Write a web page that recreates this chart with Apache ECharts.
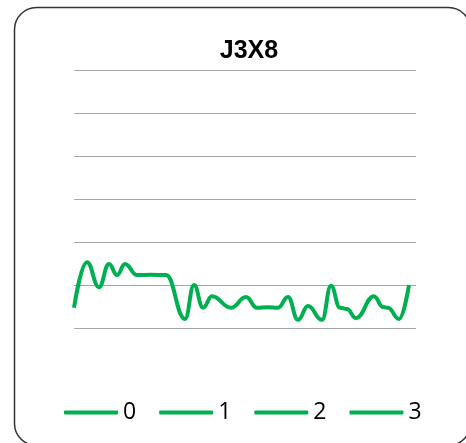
<!DOCTYPE html>
<html>
<head>
<meta charset="utf-8">
<script src="https://cdn.jsdelivr.net/npm/echarts@6/dist/echarts.min.js"></script>
<style>
html,body{margin:0;padding:0;background:#fff;}
#chart{width:466px;height:443px;}
</style>
</head>
<body>
<div id="chart"></div>
<script>
var titleText = 'J3X8';
var seriesNames = ['0', '1', '2', '3'];
// series "0": positions along the x axis (sample index) and values
var series0X = [0, 2.87, 5.52, 7.73, 9.50, 11.27, 13.92, 17.0, 20.32, 24.52,
  26.51, 28.50, 30.48, 34.68, 38.0, 40.42, 42.8, 45.06, 47.27, 49.48,
  51.69, 54.78, 56.77, 58.76, 60.30, 62.29, 66.27, 68.26, 69.36, 71.79, 74.0];
var series0Y = [0.47, 1.53, 0.95, 1.49, 1.23, 1.49, 1.23, 1.24, 1.23, 0.21,
  1.00, 0.47, 0.74, 0.47, 0.72, 0.47, 0.48, 0.47, 0.72, 0.19,
  0.51, 0.19, 0.98, 0.47, 0.44, 0.23, 0.74, 0.49, 0.47, 0.21, 1.00];
var series1 = [];
var series2 = [];
var series3 = [];
var series0 = series0X.map(function (x, i) { return [x, series0Y[i]]; });
var allSeries = [series0, series1, series2, series3];

var chart = echarts.init(document.getElementById('chart'), null, {renderer: 'canvas'});
var green = '#00b050';
var font = '"Open Sans", "Liberation Sans", sans-serif';

var option = {
  animation: false,
  backgroundColor: '#ffffff',
  title: {
    text: titleText,
    left: 244,
    textAlign: 'center',
    top: 34,
    textStyle: {fontFamily: '"Liberation Sans", sans-serif', fontSize: 25, fontWeight: 'bold', color: '#000'}
  },
  legend: {
    bottom: 14,
    left: 59,
    icon: 'roundRect',
    itemWidth: 54,
    itemHeight: 4,
    itemGap: 23,
    textStyle: {fontFamily: font, fontSize: 23, color: '#000'},
    data: seriesNames
  },
  grid: {left: 74, right: 50, top: 70, bottom: 115},
  xAxis: {
    type: 'value',
    min: 0,
    max: 75.55,
    show: false
  },
  yAxis: {
    type: 'value',
    min: 0,
    max: 6,
    interval: 1,
    axisLabel: {show: false},
    axisLine: {show: false},
    axisTick: {show: false},
    splitLine: {lineStyle: {color: '#a6a6a6', width: 1}}
  },
  graphic: [{
    type: 'rect',
    shape: {x: 14.5, y: 7.5, width: 456, height: 438, r: 22},
    style: {fill: 'none', stroke: '#333', lineWidth: 1.5},
    silent: true,
    z: 100
  }],
  series: seriesNames.map(function (n, k) {
    return {
      name: n,
      type: 'line',
      smooth: 0.45,
      smoothMonotone: 'x',
      showSymbol: false,
      symbol: 'none',
      color: green,
      lineStyle: {color: green, width: 4},
      data: allSeries[k]
    };
  })
};
chart.setOption(option);
</script>
</body>
</html>
